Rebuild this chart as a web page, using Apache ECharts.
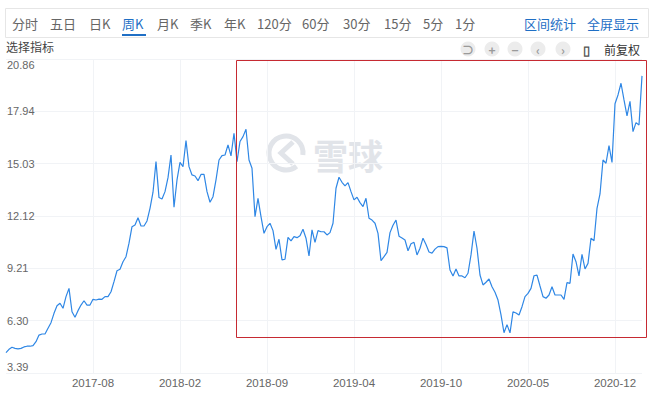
<!DOCTYPE html>
<html>
<head>
<meta charset="utf-8">
<script src="https://cdn.jsdelivr.net/npm/echarts@6/dist/echarts.min.js"></script>
<style>
html,body{margin:0;padding:0;background:#fff;}
#chart{width:654px;height:395px;}
</style>
</head>
<body>
<div id="chart"></div>
<script>
// ---- data ----
var startWeek = '2017-01-13';
var weeklyClose = [
4.52,4.71,4.82,4.76,4.73,4.76,4.84,4.88,4.88,4.91,
5.13,5.50,5.56,5.56,5.88,6.19,6.71,7.13,7.27,6.99,
7.64,8.10,6.80,6.49,6.86,7.17,7.41,7.17,7.17,7.49,
7.45,7.50,7.49,7.64,7.64,7.91,8.47,9.08,9.16,9.58,
9.86,10.61,11.53,11.63,12.03,11.57,11.57,11.85,12.55,13.45,
15.15,13.15,13.07,13.48,14.26,15.52,12.61,14.13,15.11,14.87,
16.32,14.87,14.41,14.35,14.09,14.44,14.44,13.48,12.89,13.20,
14.13,15.24,15.48,15.52,16.08,15.47,16.73,15.15,16.27,16.54,
16.95,15.24,14.78,12.09,13.11,12.09,11.16,11.53,11.72,11.31,
10.27,10.83,9.68,9.72,10.94,10.74,10.98,10.92,11.03,11.39,
10.89,9.90,11.35,10.66,11.31,11.25,11.25,11.07,11.20,11.72,
13.67,14.28,14.00,13.80,13.98,13.48,13.02,13.17,12.87,12.65,
13.11,12.00,11.90,11.72,11.16,9.64,9.86,10.10,11.20,11.61,
11.90,11.00,10.90,10.79,10.19,10.58,10.66,9.96,10.33,10.89,
10.54,10.12,10.06,10.28,10.42,10.44,10.42,10.35,9.12,8.79,
9.18,8.79,8.79,8.69,8.94,9.96,11.29,10.33,8.84,8.29,
8.44,8.62,8.19,7.88,7.45,6.62,5.63,6.08,5.62,6.80,
6.73,6.62,7.08,7.64,7.82,8.10,8.80,8.84,8.23,7.64,
7.55,7.73,8.19,7.73,7.73,7.73,7.49,8.42,8.38,10.01,
9.58,8.79,9.99,9.18,9.49,10.89,10.75,12.55,13.35,15.24,
15.06,16.04,15.11,18.37,18.86,19.51,18.58,17.69,18.50,16.82,
17.32,17.19,19.92
];
var yTickLabels = ['3.39','6.30','9.21','12.12','15.03','17.94','20.86'];
var yMin = 3.39, yMax = 20.86;
var tabs = ['分时','五日','日K','周K','月K','季K','年K','120分','60分','30分','15分','5分','1分'];
var activeTab = '周K';
var rightLinks = ['区间统计','全屏显示'];
var toolIcons = ['⊃','+','−','‹','›','▯'];
var fqLabel = '前复权';
var indicatorLabel = '选择指标';
var watermark = '雪球';

// weekly categories
var categories = [];
(function(){
  var d = new Date(startWeek + 'T00:00:00Z');
  for (var i = 0; i < weeklyClose.length; i++) {
    var t = new Date(d.getTime() + i * 7 * 86400000);
    var m = t.getUTCMonth() + 1, dd = t.getUTCDate();
    categories.push(t.getUTCFullYear() + '-' + (m < 10 ? '0' : '') + m + '-' + (dd < 10 ? '0' : '') + dd);
  }
})();

// ---- layout / style ----
var LABEL_EVERY = 29;
function showIdx(i){ return i > 0 && i % LABEL_EVERY === 0; }
var tabX = [12,50,89,122,157,190,224,257,302,343,384,423,455];
var linkX = [524,587];
var iconX = [468,492,515,538,563,586];
var FONT = '"Noto Sans CJK SC", "Microsoft YaHei", sans-serif';
var BLUE = '#1f6fc5';

var graphics = [];
graphics.push({type:'rect', shape:{x:5.5,y:8.5,width:643,height:29}, style:{fill:'none',stroke:'#e6e6e6',lineWidth:1}, silent:true});
tabs.forEach(function(t,i){
  graphics.push({type:'text', x:tabX[i], y:23, style:{text:t, fill: t===activeTab?BLUE:'#666', font:'13px '+FONT, textVerticalAlign:'middle'}});
});
graphics.push({type:'rect', shape:{x:122,y:34,width:24,height:2}, style:{fill:BLUE}});
rightLinks.forEach(function(t,i){
  graphics.push({type:'text', x:linkX[i], y:23, style:{text:t, fill:BLUE, font:'13px '+FONT, textVerticalAlign:'middle'}});
});
graphics.push({type:'text', x:6, y:46, style:{text:indicatorLabel, fill:'#444', font:'12px '+FONT, textVerticalAlign:'middle'}});
toolIcons.forEach(function(t,i){
  var last = i === toolIcons.length - 1;
  if (!last) {
    graphics.push({type:'circle', shape:{cx:iconX[i], cy:49, r:7.5}, style:{fill:'#ececec'}});
  }
  graphics.push({type:'text', x:iconX[i], y:49, style:{text:t, fill: last?'#555':'#9a9a9a', font:(last?'bold 13px ':'bold 12px ')+FONT, textAlign:'center', textVerticalAlign:'middle'}});
});
graphics.push({type:'text', x:604, y:49, style:{text:fqLabel, fill:'#333', font:'12px '+FONT, textVerticalAlign:'middle'}});
// watermark
graphics.push({type:'arc', shape:{cx:286,cy:153,r:17,startAngle:0.9,endAngle:0.9+Math.PI*1.75}, style:{stroke:'#e1e4e9',lineWidth:5,fill:'none'}, z:-1});
graphics.push({type:'polyline', shape:{points:[[293,142],[281,153],[293,164]]}, style:{stroke:'#e1e4e9',lineWidth:5,fill:'none'}, z:-1});
graphics.push({type:'text', x:313, y:154, style:{text:watermark, fill:'#e1e4e9', font:'bold 35px '+FONT, textVerticalAlign:'middle'}, z:-1});
// annotation box
graphics.push({type:'rect', shape:{x:236.5,y:60.5,width:410,height:277}, style:{fill:'none',stroke:'#c62a32',lineWidth:1}, z:100});

var chart = echarts.init(document.getElementById('chart'), null, {renderer:'svg'});
chart.setOption({
  animation:false,
  backgroundColor:'#fff',
  grid:{left:6,right:12,top:59,bottom:22,containLabel:false},
  xAxis:{
    type:'category', data:categories, boundaryGap:false,
    axisLine:{show:false}, axisTick:{show:false},
    axisLabel:{interval:function(i){return showIdx(i);}, formatter:function(v){return v.slice(0,7);}, color:'#666', fontSize:11.5, fontFamily:'Arial, "Liberation Sans", sans-serif', margin:4},
    splitLine:{show:true, interval:function(i){return showIdx(i);}, lineStyle:{color:'#f1f3f6',width:1}}
  },
  yAxis:{
    type:'value', min:yMin, max:yMax, interval:(yMax-yMin)/6,
    axisLine:{show:false}, axisTick:{show:false},
    axisLabel:{inside:true, margin:1, color:'#666', fontSize:11, fontFamily:'Arial, "Liberation Sans", sans-serif',
      formatter:function(v,i){
        var idx = Math.round((v - yMin) / ((yMax - yMin) / 6));
        var s = yTickLabels[idx];
        if (idx === 6) return '{t|' + s + '}';
        if (idx === 0) return '{b|' + s + '}';
        return s;
      },
      rich:{t:{padding:[12,0,0,0],color:'#666',fontSize:11,fontFamily:'Arial, "Liberation Sans", sans-serif'}, b:{padding:[0,0,12,0],color:'#666',fontSize:11,fontFamily:'Arial, "Liberation Sans", sans-serif'}}
    },
    splitLine:{lineStyle:{color:'#f1f3f6',width:1}}
  },
  series:[{
    type:'line', data:weeklyClose, showSymbol:false, symbol:'none',
    lineStyle:{color:'#2f87e5', width:1.2}, z:5
  }],
  graphic:graphics
});
</script>
</body>
</html>
